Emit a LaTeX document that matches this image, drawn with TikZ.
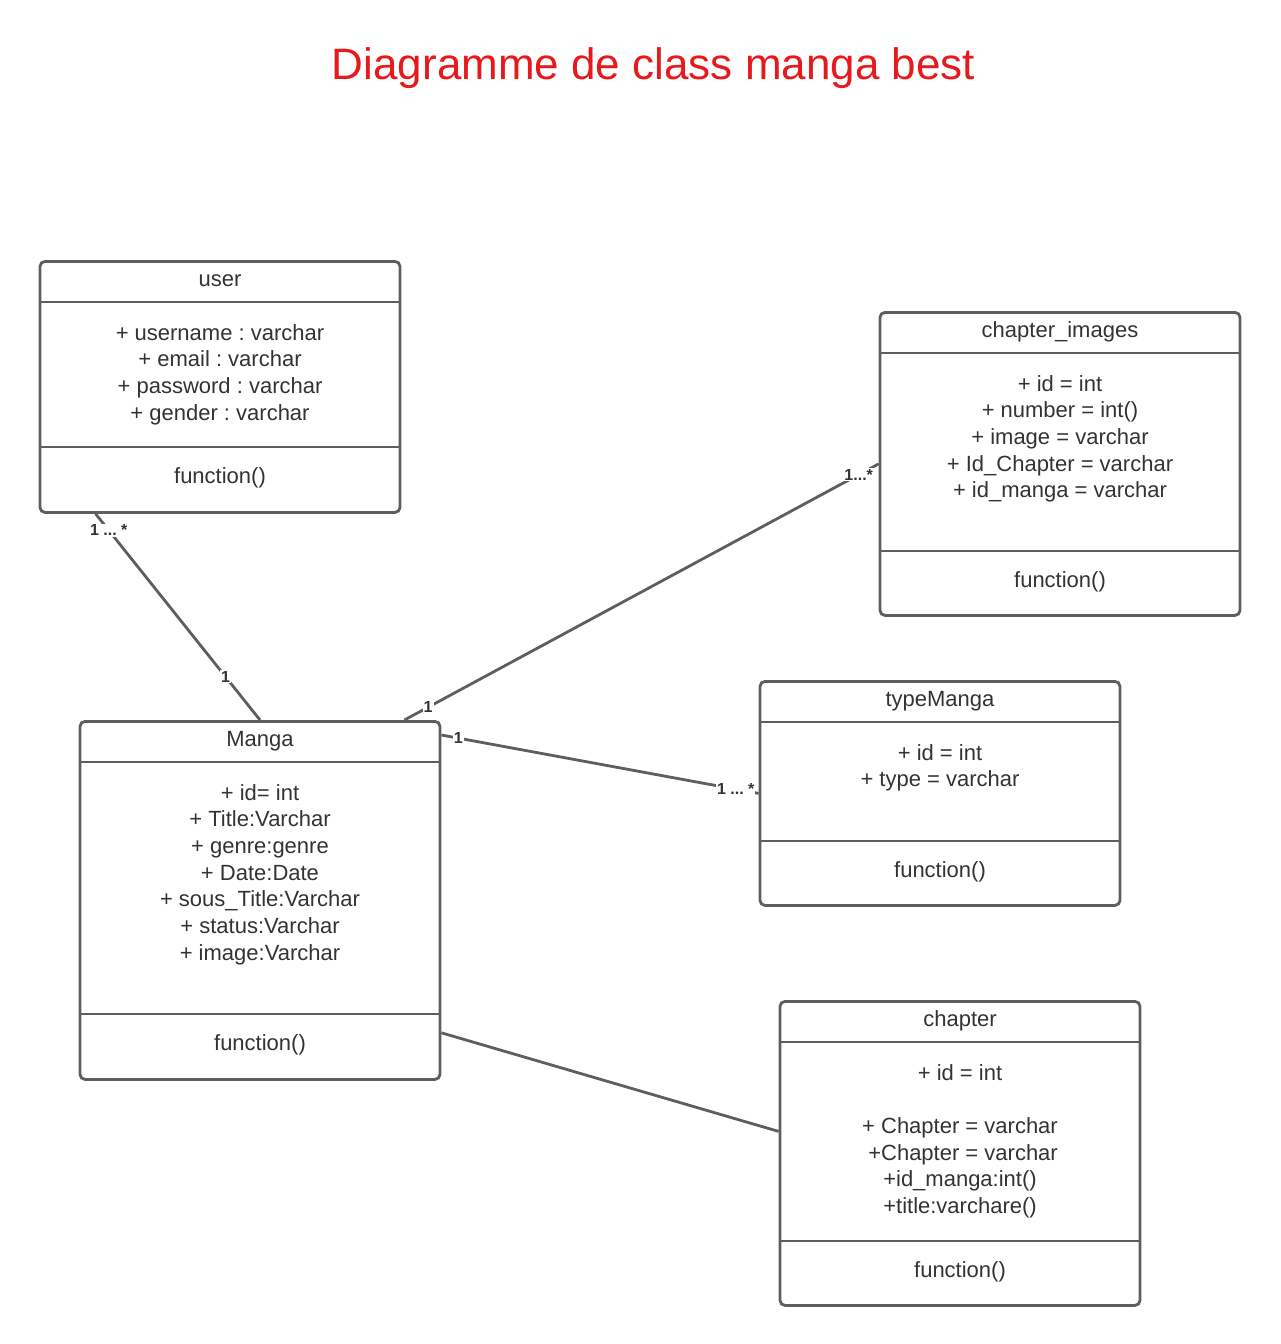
\documentclass[tikz,border=0pt]{standalone}
\usepackage{fontspec}
\setmainfont{Liberation Sans}
\frenchspacing
\definecolor{UMLGrey}{HTML}{5E5E5E}
\definecolor{UMLText}{HTML}{333333}
\definecolor{UMLRed}{HTML}{E8191C}

\tikzset{
  umlbox/.style={draw=UMLGrey,line width=2.8pt,rounded corners=5pt,minimum width=360pt,anchor=north,inner sep=0pt},
  umlsep/.style={draw=UMLGrey,line width=2.8pt},
  umlname/.style={font=\fontsize{22}{26.7}\selectfont,text=UMLText,text height=16pt,text depth=4.6pt,inner sep=0pt},
  umlattr/.style={font=\fontsize{22}{26.7}\selectfont,text=UMLText,align=center,anchor=north,inner sep=0pt},
  umllink/.style={draw=UMLGrey,line width=2.8pt},
  multlabel/.style={font=\bfseries\fontsize{16}{18}\selectfont,text=UMLText,fill=white,inner sep=1pt},
}

\begin{document}
\begin{tikzpicture}[x=1pt,y=-1pt]
  \useasboundingbox (0,0) rectangle (1280,1344);
  \node[font=\fontsize{44}{52}\selectfont,text=UMLRed,anchor=base] (title) at (653.5,79) {Diagramme de class manga best};

  % user
  \node[umlbox,minimum height=251pt] (user) at (220,260) {};
  \draw[umlsep] ([yshift=-42]user.north west) -- ([yshift=-42]user.north east);
  \draw[umlsep] ([yshift=-187]user.north west) -- ([yshift=-187]user.north east);
  \node[umlname] (userName) at ([yshift=-21]user.north) {user};
  \node[umlattr] (userAttr) at ([yshift=-64]user.north) {+ username : varchar\\+ email : varchar\\+ password : varchar\\+ gender : varchar};
  \node[umlname] (userFn) at ([yshift=-218]user.north) {function()};

  % chapter_images
  \node[umlbox,minimum height=303pt] (chapterImages) at (1060,311) {};
  \draw[umlsep] ([yshift=-42]chapterImages.north west) -- ([yshift=-42]chapterImages.north east);
  \draw[umlsep] ([yshift=-240]chapterImages.north west) -- ([yshift=-240]chapterImages.north east);
  \node[umlname] (chapterImagesName) at ([yshift=-21]chapterImages.north) {chapter\_images};
  \node[umlattr] (chapterImagesAttr) at ([yshift=-64]chapterImages.north) {+ id = int\\+ number = int()\\+ image = varchar\\+ Id\_Chapter = varchar\\+ id\_manga = varchar};
  \node[umlname] (chapterImagesFn) at ([yshift=-271]chapterImages.north) {function()};

  % typeManga
  \node[umlbox,minimum height=224pt] (typeManga) at (940,680) {};
  \draw[umlsep] ([yshift=-42]typeManga.north west) -- ([yshift=-42]typeManga.north east);
  \draw[umlsep] ([yshift=-161]typeManga.north west) -- ([yshift=-161]typeManga.north east);
  \node[umlname] (typeMangaName) at ([yshift=-21]typeManga.north) {typeManga};
  \node[umlattr] (typeMangaAttr) at ([yshift=-64]typeManga.north) {+ id = int\\+ type = varchar};
  \node[umlname] (typeMangaFn) at ([yshift=-192]typeManga.north) {function()};

  % Manga
  \node[umlbox,minimum height=358pt] (Manga) at (260,720) {};
  \draw[umlsep] ([yshift=-42]Manga.north west) -- ([yshift=-42]Manga.north east);
  \draw[umlsep] ([yshift=-294]Manga.north west) -- ([yshift=-294]Manga.north east);
  \node[umlname] (MangaName) at ([yshift=-21]Manga.north) {Manga};
  \node[umlattr] (MangaAttr) at ([yshift=-64]Manga.north) {+ id= int\\+ Title:Varchar\\+ genre:genre\\+ Date:Date\\+ sous\_Title:Varchar\\+ status:Varchar\\+ image:Varchar};
  \node[umlname] (MangaFn) at ([yshift=-325]Manga.north) {function()};

  % chapter
  \node[umlbox,minimum height=304pt] (chapter) at (960,1000) {};
  \draw[umlsep] ([yshift=-42]chapter.north west) -- ([yshift=-42]chapter.north east);
  \draw[umlsep] ([yshift=-241]chapter.north west) -- ([yshift=-241]chapter.north east);
  \node[umlname] (chapterName) at ([yshift=-21]chapter.north) {chapter};
  \node[umlattr] (chapterAttr) at ([yshift=-64]chapter.north) {+ id = int\\[26.7pt]+ Chapter = varchar\\\ +Chapter = varchar\\+id\_manga:int()\\+title:varchare()};
  \node[umlname] (chapterFn) at ([yshift=-272]chapter.north) {function()};

  % associations
  \draw[umllink] ([xshift=57]user.south west) -- node[multlabel,pos=0.08] {1 ... *} node[multlabel,pos=0.79] {1} (Manga.north);
  \draw[umllink] ([xshift=-37]Manga.north east) -- node[multlabel,pos=0.05] {1} node[multlabel,pos=0.958] {1...*} (chapterImages.west);
  \draw[umllink] ([yshift=-15]Manga.north east) -- node[multlabel,pos=0.053] {1} node[multlabel,pos=0.928] {1 ... *} (typeManga.west);
  \draw[umllink] ([yshift=48]Manga.south east) -- ([yshift=22]chapter.west);
\end{tikzpicture}
\end{document}
